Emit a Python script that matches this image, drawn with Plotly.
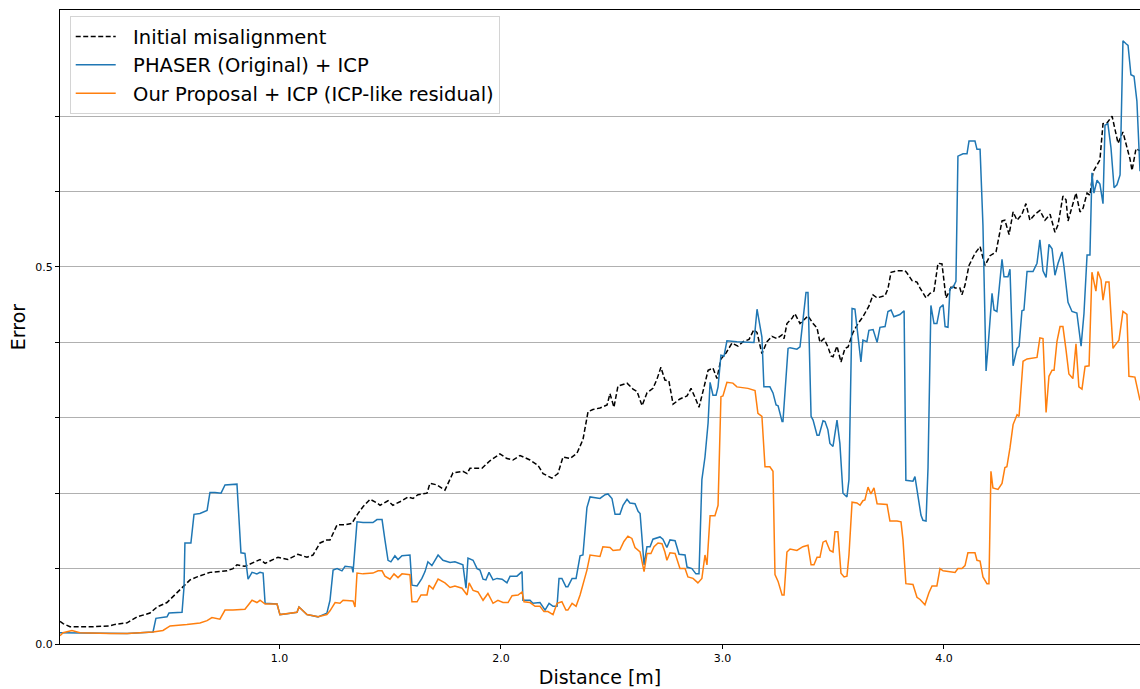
import plotly.graph_objects as go

# Initial misalignment (distance [m], error)
init_dist = [0.009, 0.023, 0.054, 0.158, 0.235, 0.257, 0.312, 0.357, 0.415, 0.447, 0.492, 0.528, 0.564, 0.596,
             0.628, 0.686, 0.763, 0.790, 0.808, 0.844, 0.912, 0.935, 0.993, 1.038, 1.083, 1.124, 1.151, 1.183,
             1.214, 1.228, 1.260, 1.296, 1.327, 1.354, 1.377, 1.409, 1.440, 1.454, 1.490, 1.512, 1.553, 1.580,
             1.603, 1.625, 1.666, 1.679, 1.711, 1.747, 1.783, 1.828, 1.847, 1.860, 1.914, 1.950, 1.995, 2.027,
             2.054, 2.086, 2.131, 2.167, 2.190, 2.230, 2.257, 2.280, 2.312, 2.343, 2.370, 2.393, 2.415, 2.447,
             2.479, 2.492, 2.510, 2.528, 2.569, 2.596, 2.614, 2.637, 2.659, 2.686, 2.704, 2.722, 2.740, 2.758,
             2.777, 2.808, 2.840, 2.858, 2.876, 2.894, 2.912, 2.935, 2.957, 2.975, 2.993, 3.016, 3.043, 3.070,
             3.093, 3.120, 3.142, 3.156, 3.178, 3.201, 3.223, 3.246, 3.269, 3.278, 3.291, 3.314, 3.327, 3.350,
             3.368, 3.386, 3.409, 3.427, 3.440, 3.458, 3.476, 3.490, 3.499, 3.517, 3.535, 3.553, 3.567, 3.589,
             3.612, 3.634, 3.661, 3.680, 3.698, 3.734, 3.747, 3.761, 3.788, 3.824, 3.833, 3.856, 3.878, 3.892,
             3.919, 3.937, 3.955, 3.964, 3.973, 3.991, 4.009, 4.023, 4.036, 4.050, 4.072, 4.081, 4.095, 4.113,
             4.140, 4.163, 4.185, 4.208, 4.235, 4.262, 4.275, 4.294, 4.312, 4.330, 4.352, 4.370, 4.388, 4.411,
             4.433, 4.456, 4.479, 4.501, 4.515, 4.537, 4.551, 4.560, 4.582, 4.596, 4.614, 4.628, 4.646, 4.659,
             4.673, 4.704, 4.718, 4.736, 4.759, 4.786, 4.808, 4.840, 4.849, 4.867, 4.885]
init_err = [0.030, 0.027, 0.023, 0.023, 0.024, 0.026, 0.028, 0.036, 0.041, 0.049, 0.055, 0.065, 0.076, 0.085,
            0.089, 0.095, 0.097, 0.100, 0.105, 0.103, 0.112, 0.107, 0.115, 0.112, 0.119, 0.115, 0.118, 0.134,
            0.138, 0.138, 0.158, 0.158, 0.160, 0.173, 0.182, 0.192, 0.187, 0.184, 0.190, 0.184, 0.190, 0.195,
            0.193, 0.198, 0.200, 0.213, 0.211, 0.204, 0.227, 0.229, 0.226, 0.233, 0.233, 0.243, 0.252, 0.246,
            0.244, 0.250, 0.244, 0.237, 0.226, 0.220, 0.226, 0.248, 0.246, 0.253, 0.271, 0.308, 0.311, 0.313,
            0.317, 0.332, 0.314, 0.342, 0.346, 0.338, 0.335, 0.316, 0.333, 0.339, 0.351, 0.367, 0.350, 0.349,
            0.318, 0.325, 0.329, 0.339, 0.327, 0.314, 0.335, 0.363, 0.366, 0.352, 0.378, 0.386, 0.399, 0.395,
            0.401, 0.404, 0.417, 0.413, 0.385, 0.401, 0.408, 0.405, 0.410, 0.405, 0.425, 0.432, 0.438, 0.425,
            0.430, 0.435, 0.425, 0.419, 0.400, 0.405, 0.394, 0.382, 0.381, 0.395, 0.374, 0.392, 0.394, 0.413,
            0.425, 0.434, 0.448, 0.463, 0.459, 0.462, 0.471, 0.493, 0.495, 0.495, 0.492, 0.482, 0.480, 0.472,
            0.459, 0.465, 0.468, 0.484, 0.505, 0.504, 0.459, 0.467, 0.476, 0.472, 0.472, 0.463, 0.476, 0.502,
            0.518, 0.527, 0.502, 0.515, 0.520, 0.561, 0.562, 0.543, 0.573, 0.562, 0.570, 0.584, 0.562, 0.570,
            0.575, 0.562, 0.570, 0.546, 0.556, 0.594, 0.589, 0.561, 0.583, 0.598, 0.573, 0.578, 0.598, 0.595,
            0.626, 0.642, 0.690, 0.691, 0.700, 0.664, 0.679, 0.643, 0.628, 0.657, 0.654]

# PHASER (Original) + ICP
phaser_dist = [0.009, 0.099, 0.235, 0.312, 0.429, 0.442, 0.492, 0.501, 0.560, 0.569, 0.573, 0.600, 0.614, 0.641,
               0.673, 0.686, 0.709, 0.736, 0.754, 0.808, 0.826, 0.844, 0.858, 0.876, 0.898, 0.912, 0.926, 0.935,
               0.989, 1.002, 1.034, 1.079, 1.088, 1.124, 1.174, 1.214, 1.228, 1.242, 1.260, 1.282, 1.296, 1.327,
               1.332, 1.350, 1.377, 1.422, 1.440, 1.463, 1.476, 1.490, 1.503, 1.521, 1.535, 1.553, 1.589, 1.598,
               1.621, 1.643, 1.657, 1.670, 1.688, 1.716, 1.738, 1.770, 1.792, 1.828, 1.842, 1.851, 1.874, 1.892,
               1.905, 1.919, 1.932, 1.946, 1.964, 1.982, 2.005, 2.027, 2.041, 2.072, 2.095, 2.099, 2.131, 2.144,
               2.176, 2.199, 2.217, 2.235, 2.253, 2.262, 2.275, 2.293, 2.302, 2.321, 2.339, 2.357, 2.370, 2.388,
               2.402, 2.447, 2.470, 2.483, 2.501, 2.515, 2.537, 2.551, 2.569, 2.582, 2.605, 2.619, 2.628, 2.646,
               2.659, 2.673, 2.686, 2.718, 2.731, 2.749, 2.763, 2.786, 2.804, 2.831, 2.840, 2.862, 2.880, 2.894,
               2.907, 2.921, 2.935, 2.944, 2.957, 2.971, 2.980, 2.993, 3.007, 3.020, 3.065, 3.142, 3.156, 3.178,
               3.187, 3.214, 3.228, 3.242, 3.251, 3.269, 3.273, 3.296, 3.305, 3.336, 3.350, 3.377, 3.386, 3.400,
               3.409, 3.427, 3.436, 3.454, 3.463, 3.476, 3.485, 3.499, 3.517, 3.530, 3.544, 3.562, 3.571, 3.585,
               3.598, 3.625, 3.634, 3.652, 3.661, 3.680, 3.698, 3.711, 3.734, 3.747, 3.761, 3.774, 3.801, 3.820,
               3.828, 3.860, 3.869, 3.896, 3.905, 3.919, 3.928, 3.941, 3.955, 3.968, 3.982, 3.996, 4.005, 4.018,
               4.027, 4.041, 4.054, 4.063, 4.086, 4.104, 4.113, 4.140, 4.149, 4.163, 4.176, 4.190, 4.199, 4.217,
               4.226, 4.239, 4.262, 4.271, 4.289, 4.298, 4.312, 4.330, 4.339, 4.352, 4.361, 4.375, 4.402, 4.420,
               4.433, 4.447, 4.461, 4.474, 4.488, 4.501, 4.515, 4.533, 4.542, 4.560, 4.578, 4.600, 4.619, 4.632,
               4.646, 4.659, 4.668, 4.677, 4.691, 4.704, 4.718, 4.727, 4.740, 4.754, 4.768, 4.781, 4.795, 4.808,
               4.822, 4.831, 4.844, 4.858, 4.871, 4.885]
phaser_err = [0.015, 0.015, 0.014, 0.014, 0.016, 0.034, 0.036, 0.041, 0.042, 0.076, 0.134, 0.134, 0.172, 0.173,
              0.177, 0.201, 0.201, 0.200, 0.211, 0.212, 0.121, 0.120, 0.086, 0.095, 0.093, 0.095, 0.094, 0.054,
              0.053, 0.039, 0.040, 0.042, 0.049, 0.039, 0.036, 0.041, 0.058, 0.098, 0.100, 0.097, 0.103, 0.102,
              0.095, 0.162, 0.161, 0.161, 0.165, 0.165, 0.138, 0.111, 0.109, 0.117, 0.112, 0.117, 0.118, 0.078,
              0.077, 0.087, 0.096, 0.109, 0.104, 0.118, 0.111, 0.108, 0.109, 0.105, 0.074, 0.114, 0.111, 0.100,
              0.098, 0.086, 0.085, 0.095, 0.085, 0.087, 0.086, 0.081, 0.090, 0.090, 0.096, 0.058, 0.058, 0.054,
              0.055, 0.045, 0.054, 0.050, 0.050, 0.087, 0.087, 0.076, 0.076, 0.087, 0.087, 0.117, 0.118, 0.181,
              0.195, 0.193, 0.198, 0.199, 0.193, 0.172, 0.172, 0.184, 0.192, 0.187, 0.186, 0.176, 0.173, 0.105,
              0.129, 0.129, 0.139, 0.142, 0.139, 0.128, 0.138, 0.137, 0.119, 0.118, 0.102, 0.100, 0.093, 0.093,
              0.218, 0.248, 0.293, 0.347, 0.330, 0.330, 0.341, 0.383, 0.382, 0.402, 0.401, 0.400, 0.444, 0.407,
              0.341, 0.341, 0.333, 0.317, 0.316, 0.295, 0.295, 0.392, 0.393, 0.391, 0.394, 0.466, 0.466, 0.302,
              0.297, 0.277, 0.277, 0.296, 0.295, 0.284, 0.266, 0.262, 0.297, 0.266, 0.200, 0.195, 0.218, 0.445,
              0.444, 0.374, 0.403, 0.401, 0.416, 0.417, 0.400, 0.420, 0.421, 0.441, 0.443, 0.434, 0.437, 0.442,
              0.217, 0.216, 0.222, 0.171, 0.164, 0.163, 0.234, 0.449, 0.425, 0.425, 0.446, 0.450, 0.421, 0.420,
              0.471, 0.473, 0.481, 0.647, 0.650, 0.650, 0.667, 0.667, 0.656, 0.656, 0.555, 0.362, 0.394, 0.465,
              0.443, 0.441, 0.510, 0.487, 0.487, 0.497, 0.369, 0.392, 0.395, 0.442, 0.443, 0.494, 0.494, 0.505,
              0.536, 0.495, 0.486, 0.530, 0.524, 0.489, 0.505, 0.520, 0.500, 0.453, 0.441, 0.439, 0.395, 0.438,
              0.516, 0.516, 0.625, 0.598, 0.615, 0.610, 0.584, 0.688, 0.690, 0.658, 0.605, 0.609, 0.622, 0.800,
              0.796, 0.794, 0.755, 0.753, 0.720, 0.627]

# Our Proposal + ICP (ICP-like residual)
ours_dist = [0.009, 0.023, 0.063, 0.099, 0.235, 0.312, 0.429, 0.474, 0.506, 0.551, 0.582, 0.641, 0.673, 0.695,
             0.731, 0.754, 0.790, 0.844, 0.876, 0.898, 0.912, 0.935, 0.989, 1.002, 1.034, 1.079, 1.088, 1.124,
             1.174, 1.214, 1.228, 1.251, 1.273, 1.287, 1.332, 1.341, 1.350, 1.377, 1.422, 1.445, 1.463, 1.476,
             1.499, 1.517, 1.535, 1.553, 1.589, 1.598, 1.621, 1.639, 1.666, 1.675, 1.693, 1.716, 1.747, 1.770,
             1.792, 1.824, 1.847, 1.856, 1.874, 1.896, 1.919, 1.941, 1.964, 1.986, 2.009, 2.032, 2.050, 2.077,
             2.095, 2.104, 2.131, 2.154, 2.176, 2.194, 2.212, 2.235, 2.253, 2.275, 2.293, 2.302, 2.321, 2.339,
             2.357, 2.370, 2.388, 2.402, 2.433, 2.447, 2.460, 2.492, 2.506, 2.537, 2.555, 2.573, 2.591, 2.605,
             2.628, 2.646, 2.659, 2.677, 2.691, 2.709, 2.727, 2.740, 2.749, 2.763, 2.786, 2.808, 2.831, 2.844,
             2.867, 2.889, 2.907, 2.921, 2.930, 2.944, 2.966, 2.980, 2.993, 3.002, 3.020, 3.047, 3.065, 3.115,
             3.147, 3.160, 3.178, 3.192, 3.214, 3.228, 3.237, 3.251, 3.269, 3.278, 3.291, 3.305, 3.336, 3.363,
             3.386, 3.400, 3.413, 3.427, 3.440, 3.454, 3.467, 3.485, 3.499, 3.508, 3.521, 3.535, 3.549, 3.562,
             3.571, 3.585, 3.607, 3.621, 3.634, 3.643, 3.657, 3.670, 3.684, 3.698, 3.743, 3.756, 3.788, 3.806,
             3.815, 3.828, 3.860, 3.878, 3.892, 3.914, 3.932, 3.946, 3.968, 3.982, 3.996, 4.027, 4.050, 4.063,
             4.081, 4.095, 4.108, 4.140, 4.149, 4.163, 4.176, 4.194, 4.203, 4.212, 4.221, 4.244, 4.262, 4.275,
             4.284, 4.298, 4.312, 4.330, 4.339, 4.357, 4.375, 4.420, 4.433, 4.447, 4.461, 4.474, 4.488, 4.497,
             4.510, 4.524, 4.537, 4.551, 4.564, 4.582, 4.596, 4.609, 4.623, 4.637, 4.655, 4.668, 4.686, 4.695,
             4.709, 4.718, 4.731, 4.745, 4.763, 4.772, 4.790, 4.808, 4.826, 4.835, 4.862, 4.885]
ours_err = [0.011, 0.015, 0.018, 0.015, 0.014, 0.014, 0.016, 0.018, 0.024, 0.025, 0.026, 0.028, 0.031, 0.035,
            0.033, 0.045, 0.045, 0.046, 0.058, 0.055, 0.058, 0.053, 0.053, 0.039, 0.040, 0.042, 0.049, 0.039,
            0.036, 0.039, 0.044, 0.055, 0.054, 0.058, 0.057, 0.049, 0.094, 0.093, 0.094, 0.097, 0.097, 0.090,
            0.086, 0.093, 0.088, 0.093, 0.092, 0.056, 0.056, 0.065, 0.065, 0.078, 0.073, 0.086, 0.081, 0.075,
            0.077, 0.074, 0.065, 0.081, 0.071, 0.069, 0.058, 0.067, 0.054, 0.058, 0.055, 0.055, 0.064, 0.065,
            0.069, 0.056, 0.055, 0.050, 0.050, 0.043, 0.043, 0.039, 0.054, 0.056, 0.045, 0.045, 0.054, 0.050,
            0.065, 0.079, 0.098, 0.118, 0.117, 0.116, 0.129, 0.128, 0.124, 0.125, 0.136, 0.143, 0.140, 0.128,
            0.122, 0.096, 0.120, 0.120, 0.129, 0.134, 0.133, 0.122, 0.111, 0.121, 0.120, 0.100, 0.100, 0.089,
            0.087, 0.081, 0.087, 0.118, 0.105, 0.170, 0.170, 0.184, 0.328, 0.329, 0.347, 0.346, 0.341, 0.339,
            0.336, 0.306, 0.302, 0.235, 0.235, 0.229, 0.092, 0.083, 0.065, 0.065, 0.122, 0.126, 0.124, 0.129,
            0.131, 0.105, 0.105, 0.115, 0.115, 0.135, 0.137, 0.124, 0.122, 0.149, 0.149, 0.094, 0.089, 0.090,
            0.118, 0.188, 0.187, 0.184, 0.190, 0.191, 0.208, 0.199, 0.207, 0.186, 0.185, 0.163, 0.163, 0.162,
            0.138, 0.080, 0.079, 0.062, 0.059, 0.052, 0.068, 0.077, 0.077, 0.100, 0.097, 0.096, 0.095, 0.100,
            0.100, 0.104, 0.121, 0.121, 0.111, 0.110, 0.089, 0.080, 0.080, 0.229, 0.207, 0.205, 0.213, 0.234,
            0.235, 0.260, 0.291, 0.304, 0.302, 0.375, 0.378, 0.380, 0.406, 0.405, 0.307, 0.355, 0.363, 0.363,
            0.401, 0.421, 0.421, 0.390, 0.358, 0.352, 0.398, 0.341, 0.338, 0.368, 0.369, 0.493, 0.468, 0.494,
            0.483, 0.456, 0.480, 0.480, 0.392, 0.396, 0.403, 0.441, 0.437, 0.355, 0.354, 0.323]

x_tick_vals = [1.0, 2.0, 3.0, 4.0]
x_tick_text = ["1.0", "2.0", "3.0", "4.0"]
y_tick_vals = [0.0, 0.5]
y_tick_text = ["0.0", "0.5"]
y_minor_vals = [0.1, 0.2, 0.3, 0.4, 0.6, 0.7]

FONT = "DejaVu Sans"
PAD = "\u00a0\u00a0"  # spacing between legend sample line and label

fig = go.Figure()
fig.add_trace(go.Scatter(x=init_dist, y=init_err, mode="lines", name=PAD + "Initial misalignment",
                         legendgroup="a",
                         line=dict(color="black", width=1.5, dash="5px,2.5px")))
fig.add_trace(go.Scatter(x=phaser_dist, y=phaser_err, mode="lines", name=PAD + "PHASER (Original) + ICP",
                         legendgroup="b",
                         line=dict(color="#1f77b4", width=1.5)))
fig.add_trace(go.Scatter(x=ours_dist, y=ours_err, mode="lines",
                         name=PAD + "Our Proposal + ICP (ICP-like residual)",
                         legendgroup="c",
                         line=dict(color="#ff7f0e", width=1.5)))

fig.update_layout(
    width=1140, height=689,
    margin=dict(l=60, r=0, t=10, b=45),
    paper_bgcolor="white", plot_bgcolor="white",
    font=dict(family=FONT, color="black"),
    legend=dict(x=0.009, y=0.99, xanchor="left", yanchor="top",
                font=dict(family=FONT, size=19.5, color="black"),
                bgcolor="rgba(255,255,255,0.9)", bordercolor="#d4d4d4", borderwidth=1,
                traceorder="grouped", tracegroupgap=0, itemwidth=40),
    showlegend=True,
)

fig.update_xaxes(
    range=[0.009, 4.885], tickmode="array", tickvals=x_tick_vals, ticktext=x_tick_text,
    ticks="outside", ticklen=4, tickwidth=1, tickcolor="black",
    tickfont=dict(family=FONT, size=11, color="black"),
    showline=True, linecolor="black", linewidth=1, mirror=True,
    showgrid=False, zeroline=False,
    title=dict(text="Distance [m]", font=dict(family=FONT, size=19, color="black"), standoff=6),
)
fig.update_yaxes(
    range=[0.0, 0.8408], tickmode="array", tickvals=y_tick_vals, ticktext=y_tick_text,
    ticks="outside", ticklen=4, tickwidth=1, tickcolor="black",
    tickfont=dict(family=FONT, size=11, color="black"),
    showline=True, linecolor="black", linewidth=1,
    showgrid=True, gridcolor="#b0b0b0", gridwidth=1, zeroline=False,
    minor=dict(tickmode="array", tickvals=y_minor_vals, ticks="outside", ticklen=4,
               tickcolor="black", showgrid=True, gridcolor="#b0b0b0", gridwidth=1),
    title=dict(text="Error", font=dict(family=FONT, size=19, color="black"), standoff=4),
)

fig.write_html("out.html")
